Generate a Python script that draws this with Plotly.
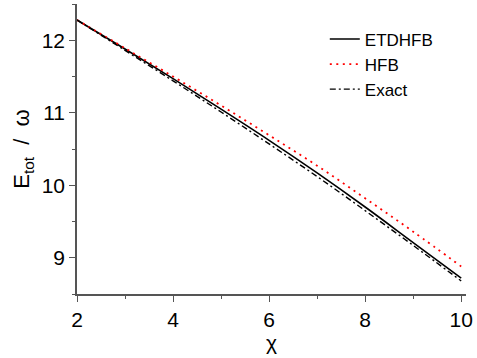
import plotly.graph_objects as go

chi = [2, 3, 4, 5, 6, 7, 8, 9, 10]
etdhfb = [12.28, 11.88, 11.47, 11.05, 10.62, 10.17, 9.70, 9.21, 8.72]
hfb = [12.28, 11.89, 11.50, 11.10, 10.69, 10.27, 9.82, 9.36, 8.88]
exact = [12.28, 11.86, 11.44, 11.01, 10.57, 10.12, 9.65, 9.17, 8.68]

x_ticks = [2, 4, 6, 8, 10]
y_ticks = [9, 10, 11, 12]

FONT = "Liberation Sans, Arial, sans-serif"

fig = go.Figure()
fig.add_trace(go.Scatter(x=chi, y=etdhfb, mode="lines", name="ETDHFB",
                         line=dict(color="black", width=1.6, shape="spline")))
fig.add_trace(go.Scatter(x=chi, y=hfb, mode="lines", name="HFB",
                         line=dict(color="red", width=1.8, dash="2px,4.5px", shape="spline")))
fig.add_trace(go.Scatter(x=chi, y=exact, mode="lines", name="Exact",
                         line=dict(color="black", width=1.4, dash="6px,3px,2px,3px", shape="spline")))

axis_common = dict(showline=True, linecolor="#555", linewidth=1.5, ticks="outside",
                   ticklen=6, tickwidth=1.2, tickcolor="#555", showgrid=False,
                   zeroline=False, mirror=False,
                   tickfont=dict(family=FONT, size=21, color="black"))

fig.update_xaxes(range=[2, 10.1], tickvals=x_ticks,
                 minor=dict(ticks="outside", ticklen=3, dtick=1, tick0=2, tickcolor="#555", showgrid=False),
                 title=dict(text="χ", font=dict(family=FONT, size=21, color="black"), standoff=2),
                 **axis_common)
fig.update_yaxes(range=[8.5, 12.5], tickvals=y_ticks,
                 minor=dict(ticks="outside", ticklen=3, dtick=0.5, tick0=8.5, tickcolor="#555", showgrid=False),
                 title=dict(text="E<sub>tot</sub>  /  ω", font=dict(family=FONT, size=22, color="black"), standoff=6),
                 **axis_common)

fig.update_layout(
    width=477, height=358,
    margin=dict(l=77, r=9, t=4, b=64),
    plot_bgcolor="white", paper_bgcolor="white",
    legend=dict(x=0.637, y=0.94, xanchor="left", yanchor="top",
                font=dict(family=FONT, size=17, color="black"),
                bgcolor="rgba(0,0,0,0)", tracegroupgap=0),
)

fig.write_html("out.html")
